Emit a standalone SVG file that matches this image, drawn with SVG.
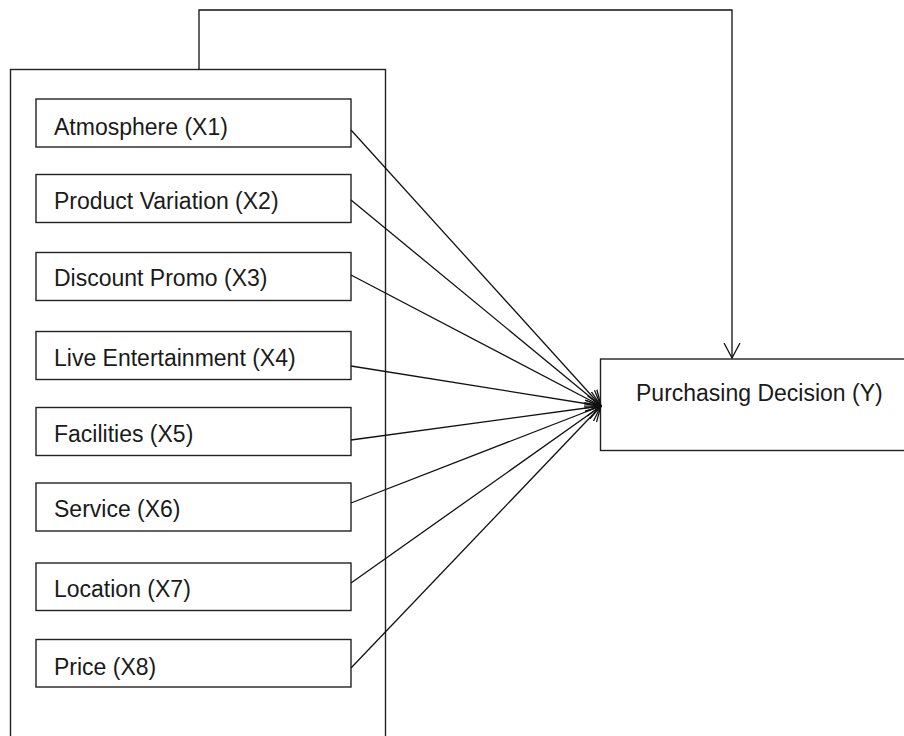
<svg xmlns="http://www.w3.org/2000/svg" width="904" height="736" viewBox="0 0 904 736">
<defs>
<style>
.box{fill:#fff;stroke:#222;stroke-width:1.4}
.lbl{font-family:"Liberation Sans",Arial,sans-serif;font-size:23px;fill:#1a1a1a}
.con{fill:none;stroke:#111;stroke-width:1.3}
</style>
<marker id="arr" viewBox="0 0 16 20" refX="15" refY="10" markerWidth="16" markerHeight="20" markerUnits="userSpaceOnUse" orient="auto">
<path d="M0,2 L15,10 L0,18" fill="none" stroke="#111" stroke-width="1.3"/>
</marker>
</defs>
<rect width="904" height="736" fill="#fff"/>
<g id="group-box"><rect class="box" x="10.5" y="69.5" width="375" height="700"/></g>
<g id="x1"><rect class="box" x="36" y="99" width="315" height="48"/><text class="lbl" x="54" y="134.5">Atmosphere (X1)</text></g>
<g id="x2"><rect class="box" x="36" y="174.5" width="315" height="48"/><text class="lbl" x="54" y="208.5">Product Variation (X2)</text></g>
<g id="x3"><rect class="box" x="36" y="252.5" width="315" height="48"/><text class="lbl" x="54" y="285.5">Discount Promo (X3)</text></g>
<g id="x4"><rect class="box" x="36" y="331.5" width="315" height="48"/><text class="lbl" x="54" y="366">Live Entertainment (X4)</text></g>
<g id="x5"><rect class="box" x="36" y="407.5" width="315" height="48"/><text class="lbl" x="54" y="441.5">Facilities (X5)</text></g>
<g id="x6"><rect class="box" x="36" y="483" width="315" height="48"/><text class="lbl" x="54" y="516.5">Service (X6)</text></g>
<g id="x7"><rect class="box" x="36" y="563" width="315" height="47.5"/><text class="lbl" x="54" y="596.5">Location (X7)</text></g>
<g id="x8"><rect class="box" x="36" y="639.5" width="315" height="47.5"/><text class="lbl" x="54" y="675">Price (X8)</text></g>
<g id="y"><rect class="box" x="600.5" y="359" width="320" height="91.5"/><text class="lbl" x="636" y="400.5">Purchasing Decision (Y)</text></g>
<g id="connectors">
<path class="con" d="M199,69.5 V10 H732 V358" marker-end="url(#arr)"/>
<path class="con" d="M351,130 L601,406" marker-end="url(#arr)"/>
<path class="con" d="M351,200 L601,406" marker-end="url(#arr)"/>
<path class="con" d="M351,275 L601,406" marker-end="url(#arr)"/>
<path class="con" d="M351,366 L601,406" marker-end="url(#arr)"/>
<path class="con" d="M351,440 L601,406" marker-end="url(#arr)"/>
<path class="con" d="M351,503 L601,406" marker-end="url(#arr)"/>
<path class="con" d="M351,583 L601,406" marker-end="url(#arr)"/>
<path class="con" d="M351,668 L601,406" marker-end="url(#arr)"/>
</g>
</svg>
